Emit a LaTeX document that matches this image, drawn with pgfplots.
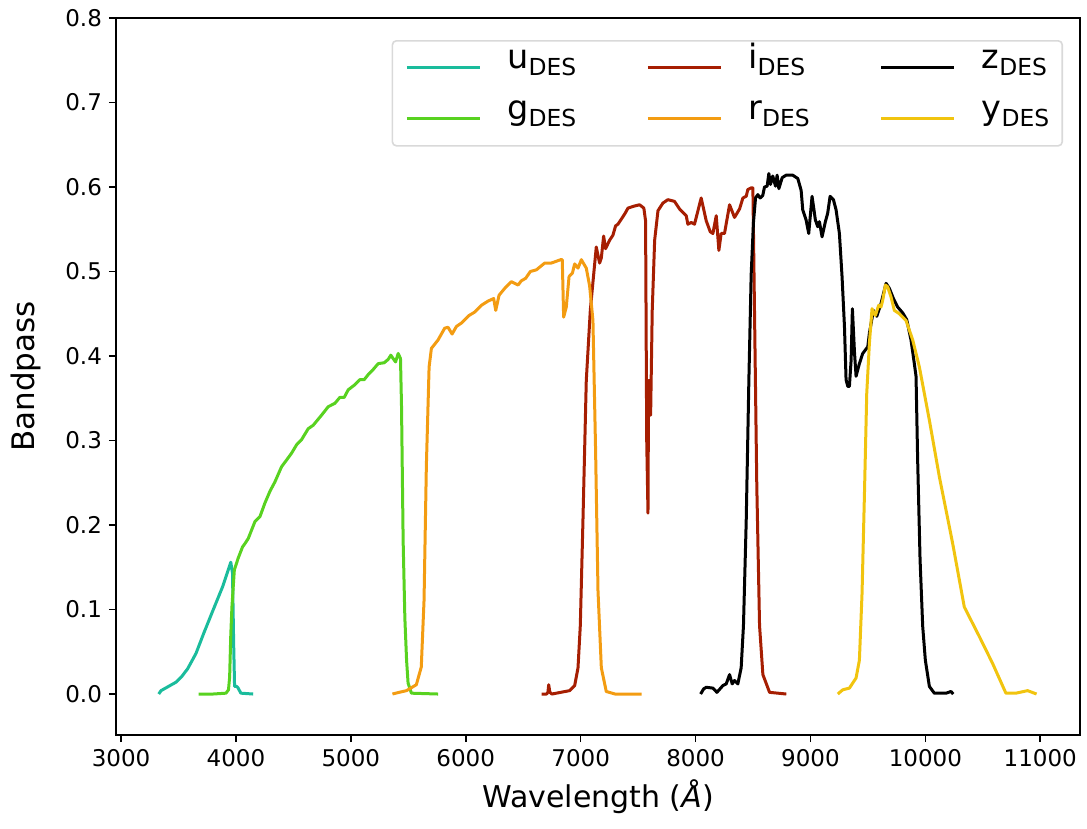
\documentclass[border=0pt]{standalone}
\usepackage{pgfplots}
\pgfplotsset{compat=1.18}
\usepackage{fontspec}
\setmainfont{DejaVu Sans}
\definecolor{cu}{RGB}{26,188,156}
\definecolor{cg}{RGB}{88,210,32}
\definecolor{ci}{RGB}{166,30,2}
\definecolor{cr}{RGB}{243,156,18}
\definecolor{cz}{RGB}{0,0,0}
\definecolor{cy}{RGB}{241,196,15}
\newcommand{\des}[1]{#1\raisebox{-3.3pt}{\fontsize{11.7}{12}\selectfont DES}}
\begin{document}
\begin{tikzpicture}
\begin{axis}[
  scale only axis, width=482pt, height=358.5pt,
  xmin=2956, xmax=11346, ymin=-0.0485, ymax=0.8,
  xtick={3000,4000,...,11000}, ytick={0,0.1,...,0.8},
  scaled ticks=false,
  /pgf/number format/1000 sep={},
  /pgf/number format/assume math mode=true,
  yticklabel style={/pgf/number format/fixed, /pgf/number format/fixed zerofill, /pgf/number format/precision=1},
  ticklabel style={font=\fontsize{11.5}{13}\selectfont},
  tick align=outside, major tick length=3.5pt,
  xtick pos=lower, ytick pos=lower,
  axis line style={line width=0.8pt}, every tick/.style={black, line width=0.8pt},
  xlabel={Wavelength (\textit{Å})}, ylabel={Bandpass},
  every axis x label/.style={at={(axis description cs:0.5,-0.0865)}, anchor=center, font=\fontsize{15}{17}\selectfont},
  every axis y label/.style={at={(axis description cs:-0.0934,0.5)}, rotate=90, anchor=center, font=\fontsize{15.5}{17}\selectfont},
  legend columns=3,
  legend cell align=left,
  legend image code/.code={\draw[#1, line width=1.5pt] (0pt,0pt) -- (36.5pt,0pt);},
  legend style={at={(0.9824,0.9693)}, anchor=north east, draw=black!15, line width=0.8pt,
    rounded corners=2pt, fill=white, inner xsep=6.5pt, inner ysep=4pt,
    font=\fontsize{16.75}{18}\selectfont,
    nodes={inner sep=0pt, text height=10pt, text depth=9pt},
    row sep=6.5pt,
    /tikz/every odd column/.append style={column sep=13pt},
    /tikz/every even column/.append style={column sep=35pt}},
  every axis plot/.append style={line width=1.5pt, line join=round},
]
\coordinate (bl) at (rel axis cs:0,0);
\coordinate (tr) at (rel axis cs:1,1);
% u
\addplot[cu] coordinates {(3328,0) (3348,0.004) (3400,0.008) (3478,0.014) (3530,0.021) (3580,0.030) (3652,0.048) (3720,0.072) (3797,0.098) (3884,0.127) (3955,0.156) (3970,0.143) (3980,0.06) (3988,0.009) (4005,0.009) (4015,0.008) (4043,0.001) (4150,0)};
\addlegendentry{\des{u}}
% i
\addplot[ci] coordinates {(6661,0) (6704,0) (6715,0.002) (6722,0.011) (6732,0.002) (6750,0) (6904,0.004) (6948,0.010) (6977,0.031) (6997,0.081) (7020,0.205) (7049,0.371) (7084,0.454) (7113,0.496) (7136,0.529) (7165,0.510) (7180,0.516) (7200,0.542) (7217,0.527) (7252,0.537) (7281,0.543) (7304,0.554) (7325,0.556) (7354,0.562) (7383,0.568) (7412,0.575) (7455,0.577) (7513,0.579) (7550,0.575) (7565,0.560) (7575,0.30) (7586,0.214) (7591,0.371) (7600,0.371) (7609,0.330) (7623,0.454) (7644,0.537) (7673,0.572) (7716,0.581) (7759,0.585) (7817,0.583) (7861,0.574) (7890,0.570) (7919,0.566) (7933,0.556) (7962,0.558) (7991,0.556) (8049,0.587) (8093,0.560) (8128,0.547) (8151,0.545) (8180,0.566) (8203,0.525) (8223,0.545) (8252,0.545) (8296,0.579) (8339,0.564) (8383,0.574) (8412,0.587) (8441,0.589) (8455,0.597) (8484,0.599) (8499,0.599) (8513,0.454) (8533,0.247) (8557,0.081) (8586,0.023) (8644,0.002) (8790,0)};
\addlegendentry{\des{i}}
% z
\addplot[cz] coordinates {(8044,0) (8070,0.006) (8093,0.008) (8151,0.007) (8186,0.002) (8238,0.010) (8267,0.012) (8296,0.023) (8319,0.012) (8339,0.016) (8368,0.012) (8397,0.031) (8417,0.081) (8441,0.205) (8464,0.371) (8484,0.496) (8504,0.558) (8522,0.587) (8542,0.591) (8562,0.587) (8585,0.590) (8600,0.600) (8623,0.601) (8638,0.616) (8652,0.603) (8672,0.613) (8696,0.601) (8710,0.614) (8725,0.598) (8754,0.611) (8788,0.614) (8846,0.614) (8890,0.610) (8919,0.596) (8933,0.573) (8962,0.561) (8985,0.545) (9014,0.589) (9043,0.561) (9063,0.553) (9078,0.559) (9101,0.541) (9130,0.559) (9150,0.569) (9171,0.589) (9200,0.585) (9223,0.573) (9252,0.545) (9275,0.494) (9296,0.435) (9310,0.372) (9325,0.364) (9339,0.364) (9354,0.395) (9365,0.456) (9383,0.405) (9397,0.376) (9426,0.391) (9455,0.403) (9499,0.411) (9513,0.427) (9548,0.454) (9577,0.447) (9614,0.462) (9658,0.486) (9687,0.480) (9722,0.468) (9759,0.458) (9803,0.451) (9838,0.443) (9875,0.419) (9900,0.395) (9919,0.376) (9933,0.277) (9954,0.159) (9977,0.080) (10000,0.040) (10035,0.009) (10078,0.001) (10180,0.001) (10223,0.003) (10243,0)};
\addlegendentry{\des{z}}
% g
\addplot[cg] coordinates {(3675,0) (3800,0) (3913,0.001) (3935,0.005) (3945,0.02) (3955,0.07) (3965,0.103) (3986,0.147) (4020,0.161) (4057,0.174) (4078,0.178) (4107,0.184) (4165,0.204) (4209,0.210) (4252,0.226) (4296,0.240) (4339,0.251) (4397,0.269) (4441,0.277) (4484,0.285) (4528,0.295) (4571,0.301) (4629,0.314) (4672,0.318) (4745,0.330) (4803,0.340) (4861,0.344) (4904,0.351) (4942,0.351) (4977,0.360) (5035,0.366) (5078,0.372) (5116,0.372) (5151,0.378) (5194,0.384) (5238,0.391) (5290,0.392) (5325,0.396) (5348,0.401) (5368,0.397) (5389,0.393) (5412,0.403) (5432,0.397) (5441,0.340) (5455,0.182) (5470,0.090) (5485,0.040) (5498,0.013) (5527,0.001) (5760,0)};
\addlegendentry{\des{g}}
% r
\addplot[cr] coordinates {(5362,0) (5420,0.002) (5484,0.004) (5570,0.011) (5613,0.032) (5637,0.111) (5657,0.269) (5681,0.387) (5701,0.409) (5759,0.419) (5817,0.433) (5846,0.434) (5881,0.426) (5919,0.435) (5962,0.439) (6029,0.448) (6078,0.452) (6136,0.460) (6194,0.465) (6243,0.468) (6261,0.454) (6290,0.472) (6339,0.480) (6397,0.488) (6455,0.484) (6484,0.489) (6522,0.492) (6562,0.500) (6615,0.502) (6687,0.510) (6745,0.510) (6826,0.514) (6840,0.514) (6852,0.446) (6875,0.458) (6899,0.494) (6928,0.498) (6948,0.509) (6977,0.504) (7006,0.514) (7049,0.504) (7078,0.483) (7107,0.442) (7130,0.288) (7151,0.122) (7180,0.031) (7223,0.003) (7300,0) (7530,0)};
\addlegendentry{\des{r}}
% y
\addplot[cy] coordinates {(9238,0) (9281,0.005) (9339,0.007) (9397,0.019) (9426,0.040) (9449,0.119) (9470,0.237) (9490,0.356) (9513,0.415) (9536,0.456) (9565,0.448) (9594,0.460) (9614,0.458) (9629,0.466) (9652,0.484) (9672,0.482) (9701,0.470) (9730,0.454) (9774,0.450) (9832,0.442) (9890,0.419) (9948,0.387) (10035,0.324) (10122,0.257) (10238,0.178) (10339,0.103) (10470,0.068) (10586,0.036) (10701,0.001) (10788,0.001) (10890,0.004) (10968,0)};
\addlegendentry{\des{y}}
\end{axis}
\path (bl) ++(-58pt,-46.5pt) coordinate (A);
\path (tr) ++(3.5pt,9pt) coordinate (B);
\pgfresetboundingbox
\path (A) rectangle (B);
\end{tikzpicture}
\end{document}
